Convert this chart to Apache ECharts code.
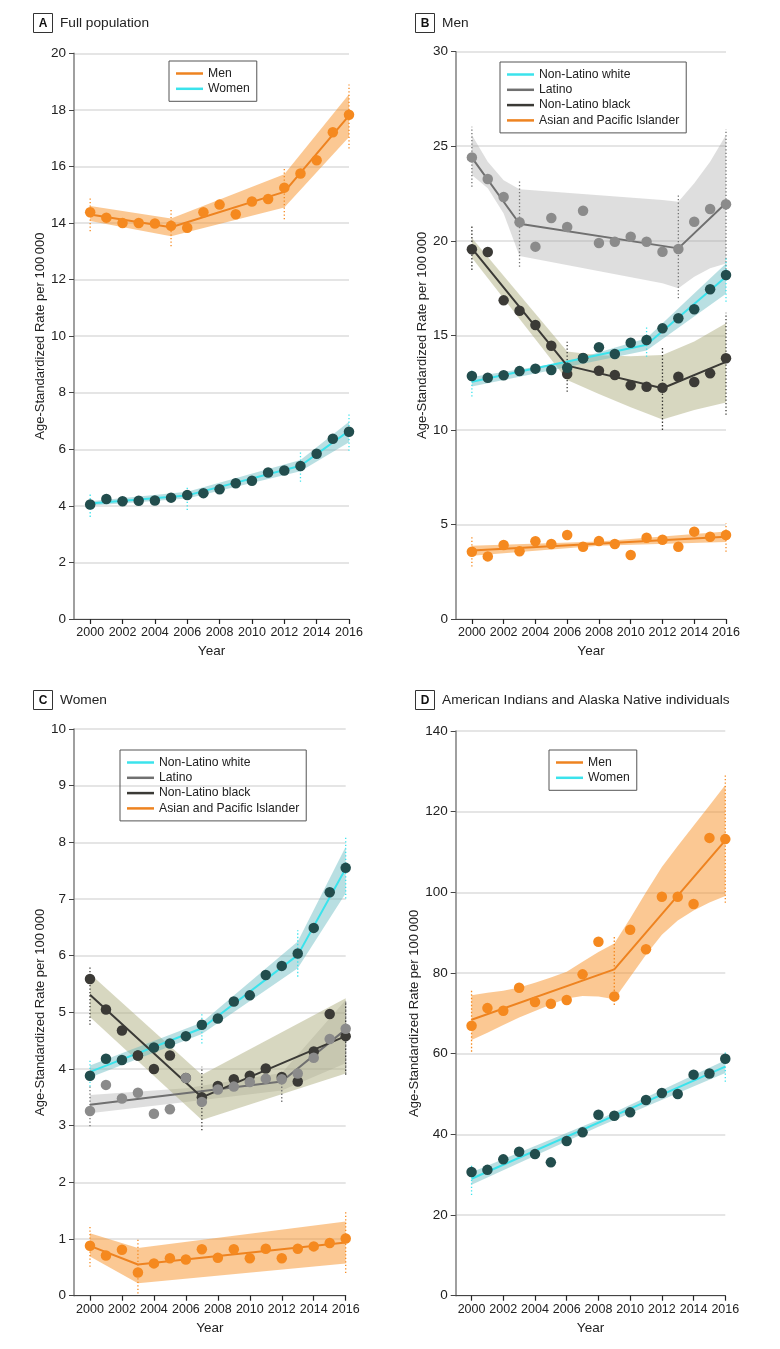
<!DOCTYPE html>
<html><head><meta charset="utf-8">
<script src="https://cdn.jsdelivr.net/npm/echarts@6/dist/echarts.min.js"></script>
<style>html,body{margin:0;padding:0;background:#fff}#c{width:780px;height:1349px}</style>
</head><body><div id="c"></div>
<script>
// ---------- data ----------
const years = [2000,2001,2002,2003,2004,2005,2006,2007,2008,2009,2010,2011,2012,2013,2014,2015,2016];
const xTicks = [2000,2002,2004,2006,2008,2010,2012,2014,2016];

// Panel A: full population
const aMenObs   = [14.38,14.19,14.0,14.0,13.98,13.9,13.83,14.38,14.65,14.31,14.76,14.85,15.25,15.75,16.22,17.21,17.83];
const aMenFitX  = [2000,2005,2012,2016];
const aMenFit   = [14.3,13.85,15.1,17.8];
const aMenBandX = [2000,2005,2012,2016];
const aMenBandLo= [14.07,13.53,14.55,17.04];
const aMenBandHi= [14.6,14.16,15.72,18.55];
const aMenCiX   = [2000,2005,2012,2016];
const aMenCiLo  = [13.71,13.18,14.13,16.63];
const aMenCiHi  = [14.87,14.48,15.95,18.9];

const aWomObs   = [4.05,4.24,4.16,4.18,4.19,4.29,4.38,4.45,4.59,4.8,4.89,5.18,5.25,5.41,5.84,6.37,6.62];
const aWomFitX  = [2000,2006,2013,2016];
const aWomFit   = [4.08,4.37,5.42,6.65];
const aWomBandX = [2000,2006,2013,2016];
const aWomBandLo= [4.0,4.26,5.22,6.25];
const aWomBandHi= [4.16,4.5,5.62,6.97];
const aWomCiX   = [2000,2006,2013,2016];
const aWomCiLo  = [3.61,3.85,4.85,5.95];
const aWomCiHi  = [4.46,4.68,5.94,7.23];

// Panel B: men
const bWhiteObs   = [12.85,12.76,12.89,13.11,13.24,13.17,13.29,13.79,14.37,14.01,14.61,14.75,15.37,15.9,16.38,17.44,18.19];
const bWhiteFitX  = [2000,2011,2016];
const bWhiteFit   = [12.55,14.5,18.1];
const bWhiteBandX = [2000,2006,2011,2016];
const bWhiteBandLo= [12.3,13.32,14.2,17.2];
const bWhiteBandHi= [12.8,13.6,14.85,18.8];
const bWhiteCiX   = [2000,2011,2016];
const bWhiteCiLo  = [11.76,13.87,16.78];
const bWhiteCiHi  = [13.17,15.46,19.07];

const bLatObs   = [24.41,23.27,22.32,20.98,19.69,21.21,20.73,21.59,19.88,19.95,20.22,19.95,19.42,19.57,21.01,21.68,21.93];
const bLatFitX  = [2000,2003,2013,2016];
const bLatFit   = [24.4,20.9,19.6,22.0];
const bLatBandX = [2000,2001,2002,2003,2012,2013,2014,2015,2016];
const bLatBandLo= [23.48,22.78,21.45,19.2,17.75,17.49,18.1,18.55,18.8];
const bLatBandHi= [25.6,24.18,23.2,22.72,22.16,22.07,23.04,24.18,25.6];
const bLatCiX   = [2000,2003,2013,2016];
const bLatCiLo  = [22.86,18.63,16.96,18.3];
const bLatCiHi  = [26.03,23.13,22.42,25.9];

const bBlackObs   = [19.55,19.41,16.85,16.3,15.55,14.45,12.96,13.8,13.13,12.9,12.36,12.28,12.23,12.81,12.53,12.99,13.79];
const bBlackFitX  = [2000,2006,2012,2016];
const bBlackFit   = [19.6,13.4,12.2,13.6];
const bBlackBandX = [2000,2006,2008,2010,2012,2014,2016];
const bBlackBandLo= [19.1,12.64,11.9,11.2,10.55,11.05,11.45];
const bBlackBandHi= [20.15,14.15,13.95,13.9,13.96,14.67,15.64];
const bBlackCiX   = [2000,2006,2012,2016];
const bBlackCiLo  = [18.46,12.02,10.0,10.8];
const bBlackCiHi  = [20.83,14.66,14.4,16.2];

const bAsianObs   = [3.56,3.31,3.91,3.58,4.11,3.97,4.44,3.82,4.12,3.97,3.38,4.3,4.19,3.82,4.62,4.35,4.44];
const bAsianFitX  = [2000,2016];
const bAsianFit   = [3.62,4.35];
const bAsianBandX = [2000,2008,2016];
const bAsianBandLo= [3.35,3.87,4.07];
const bAsianBandHi= [3.87,4.1,4.63];
const bAsianCiX   = [2000,2016];
const bAsianCiLo  = [2.77,3.56];
const bAsianCiHi  = [4.39,5.06];

// Panel C: women
const cWhiteObs   = [3.88,4.18,4.16,4.24,4.38,4.45,4.58,4.78,4.89,5.19,5.3,5.66,5.82,6.04,6.49,7.12,7.55];
const cWhiteFitX  = [2000,2007,2013,2016];
const cWhiteFit   = [3.95,4.72,6.01,7.54];
const cWhiteBandX = [2000,2007,2013,2016];
const cWhiteBandLo= [3.85,4.62,5.78,7.1];
const cWhiteBandHi= [4.06,4.82,6.25,7.92];
const cWhiteCiX   = [2000,2007,2013,2016];
const cWhiteCiLo  = [3.69,4.45,5.63,7.01];
const cWhiteCiHi  = [4.16,4.98,6.45,8.1];

const cLatObs   = [3.26,3.72,3.48,3.58,3.21,3.29,3.84,3.42,3.64,3.69,3.77,3.83,3.82,3.92,4.2,4.53,4.71];
const cLatFitX  = [2000,2012,2016];
const cLatFit   = [3.37,3.78,4.7];
const cLatBandX = [2000,2006,2012,2016];
const cLatBandLo= [3.22,3.42,3.62,4.1];
const cLatBandHi= [3.54,3.66,3.93,5.22];
const cLatCiX   = [2000,2012,2016];
const cLatCiLo  = [2.99,3.42,3.92];
const cLatCiHi  = [3.72,3.89,5.2];

const cBlackObs   = [5.59,5.05,4.68,4.24,4.0,4.24,3.84,3.5,3.7,3.82,3.88,4.01,3.86,3.78,4.31,4.97,4.58];
const cBlackFitX  = [2000,2007,2016];
const cBlackFit   = [5.31,3.5,4.58];
const cBlackBandX = [2000,2007,2016];
const cBlackBandLo= [4.92,3.1,3.92];
const cBlackBandHi= [5.68,3.9,5.25];
const cBlackCiX   = [2000,2007,2016];
const cBlackCiLo  = [4.78,2.92,3.9];
const cBlackCiHi  = [5.8,4.04,5.2];

const cAsianObs   = [0.88,0.71,0.81,0.41,0.57,0.66,0.64,0.82,0.67,0.82,0.66,0.83,0.66,0.83,0.87,0.93,1.01];
const cAsianFitX  = [2000,2003,2016];
const cAsianFit   = [0.88,0.55,0.94];
const cAsianBandX = [2000,2003,2016];
const cAsianBandLo= [0.69,0.22,0.57];
const cAsianBandHi= [1.1,0.84,1.31];
const cAsianCiX   = [2000,2003,2016];
const cAsianCiLo  = [0.51,0.04,0.4];
const cAsianCiHi  = [1.22,1.01,1.48];

// Panel D: American Indians and Alaska Native individuals
const dMenObs   = [66.93,71.3,70.66,76.35,72.8,72.4,73.3,79.67,87.76,74.2,90.73,85.87,98.9,98.9,97.1,113.5,113.2];
const dMenFitX  = [2000,2009,2016];
const dMenFit   = [68.4,80.9,112.9];
const dMenBandX = years;
const dMenBandLo= [63.4,65.2,67.1,69.0,70.6,72.2,73.7,74.3,74.2,73.5,79,84.5,89.5,93,95.5,97.5,99.1];
const dMenBandHi= [74.5,75.1,75.6,76.4,77.6,78.9,80.3,82.8,85.2,87.3,93.5,100,106.3,111.5,116.5,121.5,126.6];
const dMenCiX   = [2000,2009,2016];
const dMenCiLo  = [60.5,72.1,97.4];
const dMenCiHi  = [75.96,89.2,129.1];

const dWomObs   = [30.66,31.2,33.8,35.7,35.1,33.06,38.35,40.5,44.87,44.63,45.45,48.5,50.24,50.0,54.8,55.1,58.76];
const dWomFitX  = [2000,2016];
const dWomFit   = [29.0,56.8];
const dWomBandX = [2000,2008,2016];
const dWomBandLo= [27.5,41.9,55.2];
const dWomBandHi= [30.6,43.6,58.4];
const dWomCiX   = [2000,2016];
const dWomCiLo  = [24.97,53.05];
const dWomCiHi  = [32.8,60.5];

const panelTitles = ['Full population','Men','Women','American Indians and Alaska Native individuals'];
const panelLetters = ['A','B','C','D'];
const yMax = [20,30,10,140];
const yStep = [2,5,1,20];

// ---------- styles ----------
const FONT = '"Liberation Sans",Arial,sans-serif';
const ORANGE_DOT='#F5891F', ORANGE_LINE='#EE8320', ORANGE_BAND='rgba(247,145,40,0.5)';
const CYAN_LINE='#3BE3EC', TEAL_DOT='#224D4D', TEAL_BAND='rgba(100,185,190,0.45)';
const GRAY_DOT='#8B8B8B', GRAY_LINE='#707070', GRAY_BAND='rgba(160,160,160,0.35)';
const DARK_DOT='#3B3A36', DARK_LINE='#3B3A36', KHAKI_BAND='rgba(175,175,130,0.5)';

const grids = [
  {left:74, top:53.3, width:275, height:565.7},
  {left:456, top:51.7, width:270, height:567.3},
  {left:74, top:729, width:271.7, height:566.7},
  {left:455.7, top:731, width:269.6, height:564.7}
];

function band(gi, xs, lo, hi, color){
  return {type:'custom', xAxisIndex:gi, yAxisIndex:gi, silent:true, z:1,
    data: xs.map((x,i)=>[x, lo[i], hi[i]]), encode:{x:0, y:[1,2]},
    renderItem:(p, api)=>{
      if (p.dataIndex!==0) return null;
      const pts=[];
      for (let i=0;i<xs.length;i++) pts.push(api.coord([xs[i],hi[i]]));
      for (let i=xs.length-1;i>=0;i--) pts.push(api.coord([xs[i],lo[i]]));
      return {type:'polygon', shape:{points:pts}, style:{fill:color}};
    }};
}
function ci(gi, xs, lo, hi, color){
  return {type:'custom', xAxisIndex:gi, yAxisIndex:gi, silent:true, z:2,
    data: xs.map((x,i)=>[x, lo[i], hi[i]]), encode:{x:0, y:[1,2]},
    renderItem:(p, api)=>{
      const a=api.coord([api.value(0),api.value(1)]), b=api.coord([api.value(0),api.value(2)]);
      return {type:'line', shape:{x1:a[0],y1:a[1],x2:b[0],y2:b[1]},
        style:{stroke:color, lineWidth:1.3, lineDash:[1.3,2.2]}};
    }};
}
function fit(name, gi, xs, ys, color){
  return {type:'line', name, xAxisIndex:gi, yAxisIndex:gi, silent:true, z:3,
    data: xs.map((x,i)=>[x,ys[i]]), symbol:'none', lineStyle:{color, width:2}, itemStyle:{color}};
}
function dots(name, gi, vals, color){
  return {type:'scatter', name, xAxisIndex:gi, yAxisIndex:gi, silent:true, z:5,
    data: years.map((y,i)=>[y,vals[i]]), symbolSize:10.5, itemStyle:{color, opacity:1}};
}

const series = [
  // A
  band(0,aMenBandX,aMenBandLo,aMenBandHi,ORANGE_BAND),
  band(0,aWomBandX,aWomBandLo,aWomBandHi,TEAL_BAND),
  ci(0,aMenCiX,aMenCiLo,aMenCiHi,ORANGE_DOT),
  ci(0,aWomCiX,aWomCiLo,aWomCiHi,CYAN_LINE),
  fit('Men',0,aMenFitX,aMenFit,ORANGE_LINE),
  fit('Women',0,aWomFitX,aWomFit,CYAN_LINE),
  dots('Men (observed)',0,aMenObs,ORANGE_DOT),
  dots('Women (observed)',0,aWomObs,TEAL_DOT),
  // B
  band(1,bLatBandX,bLatBandLo,bLatBandHi,GRAY_BAND),
  band(1,bBlackBandX,bBlackBandLo,bBlackBandHi,KHAKI_BAND),
  band(1,bWhiteBandX,bWhiteBandLo,bWhiteBandHi,TEAL_BAND),
  band(1,bAsianBandX,bAsianBandLo,bAsianBandHi,ORANGE_BAND),
  ci(1,bLatCiX,bLatCiLo,bLatCiHi,GRAY_LINE),
  ci(1,bBlackCiX,bBlackCiLo,bBlackCiHi,DARK_LINE),
  ci(1,bWhiteCiX,bWhiteCiLo,bWhiteCiHi,CYAN_LINE),
  ci(1,bAsianCiX,bAsianCiLo,bAsianCiHi,ORANGE_DOT),
  fit('Non-Latino white',1,bWhiteFitX,bWhiteFit,CYAN_LINE),
  fit('Latino',1,bLatFitX,bLatFit,GRAY_LINE),
  fit('Non-Latino black',1,bBlackFitX,bBlackFit,DARK_LINE),
  fit('Asian and Pacific Islander',1,bAsianFitX,bAsianFit,ORANGE_LINE),
  dots('Latino (observed)',1,bLatObs,GRAY_DOT),
  dots('Non-Latino black (observed)',1,bBlackObs,DARK_DOT),
  dots('Non-Latino white (observed)',1,bWhiteObs,TEAL_DOT),
  dots('Asian and Pacific Islander (observed)',1,bAsianObs,ORANGE_DOT),
  // C
  band(2,cLatBandX,cLatBandLo,cLatBandHi,GRAY_BAND),
  band(2,cBlackBandX,cBlackBandLo,cBlackBandHi,KHAKI_BAND),
  band(2,cWhiteBandX,cWhiteBandLo,cWhiteBandHi,TEAL_BAND),
  band(2,cAsianBandX,cAsianBandLo,cAsianBandHi,ORANGE_BAND),
  ci(2,cLatCiX,cLatCiLo,cLatCiHi,GRAY_LINE),
  ci(2,cBlackCiX,cBlackCiLo,cBlackCiHi,DARK_LINE),
  ci(2,cWhiteCiX,cWhiteCiLo,cWhiteCiHi,CYAN_LINE),
  ci(2,cAsianCiX,cAsianCiLo,cAsianCiHi,ORANGE_DOT),
  fit('Non-Latino white',2,cWhiteFitX,cWhiteFit,CYAN_LINE),
  fit('Latino',2,cLatFitX,cLatFit,GRAY_LINE),
  fit('Non-Latino black',2,cBlackFitX,cBlackFit,DARK_LINE),
  fit('Asian and Pacific Islander',2,cAsianFitX,cAsianFit,ORANGE_LINE),
  dots('Non-Latino white (observed)',2,cWhiteObs,TEAL_DOT),
  dots('Non-Latino black (observed)',2,cBlackObs,DARK_DOT),
  dots('Latino (observed)',2,cLatObs,GRAY_DOT),
  dots('Asian and Pacific Islander (observed)',2,cAsianObs,ORANGE_DOT),
  // D
  band(3,dMenBandX,dMenBandLo,dMenBandHi,ORANGE_BAND),
  band(3,dWomBandX,dWomBandLo,dWomBandHi,TEAL_BAND),
  ci(3,dMenCiX,dMenCiLo,dMenCiHi,ORANGE_DOT),
  ci(3,dWomCiX,dWomCiLo,dWomCiHi,CYAN_LINE),
  fit('Men',3,dMenFitX,dMenFit,ORANGE_LINE),
  fit('Women',3,dWomFitX,dWomFit,CYAN_LINE),
  dots('Men (observed)',3,dMenObs,ORANGE_DOT),
  dots('Women (observed)',3,dWomObs,TEAL_DOT)
];

const xAxes = grids.map((g,i)=>({
  type:'value', gridIndex:i, min:1999, max:2016,
  name:'Year', nameLocation:'middle', nameGap:25.5,
  nameTextStyle:{fontFamily:FONT, fontSize:13.5, color:'#222'},
  axisLine:{show:true, onZero:false, lineStyle:{color:'#444', width:1.2}},
  axisTick:{show:true, length:5, customValues:xTicks, lineStyle:{color:'#222', width:1.2}},
  axisLabel:{customValues:xTicks, showMinLabel:true, showMaxLabel:true, hideOverlap:false,
    formatter:(v)=>String(Math.round(v)), margin:7.5, fontFamily:FONT, fontSize:12.5, color:'#222'},
  splitLine:{show:false}
}));
const yAxes = grids.map((g,i)=>({
  type:'value', gridIndex:i, min:0, max:yMax[i], interval:yStep[i],
  name:'Age-Standardized Rate per 100\u2009000', nameLocation:'middle', nameGap:[25.5,26.5,25.5,29][i],
  nameTextStyle:{fontFamily:FONT, fontSize:13, color:'#222'},
  axisLine:{show:true, lineStyle:{color:'#888', width:1.6}},
  axisTick:{show:true, length:5, lineStyle:{color:'#444'}},
  axisLabel:{margin:8, fontFamily:FONT, fontSize:13.5, color:'#222'},
  splitLine:{show:true, lineStyle:{color:'#dddddd', width:1.5}}
}));

function legend(left, top, items){
  return {orient:'vertical', left, top, padding:[6,7,6,7], itemGap:2.3,
    itemWidth:27, itemHeight:2.5, borderColor:'#555', borderWidth:1,
    selectedMode:false,
    textStyle:{fontFamily:FONT, fontSize:12.2, color:'#222', lineHeight:13},
    data: items.map(([n,c])=>({name:n, icon:'rect', itemStyle:{color:c, borderWidth:0}}))};
}
const legends = [
  legend(169,61,[['Men',ORANGE_LINE],['Women',CYAN_LINE]]),
  legend(500,62,[['Non-Latino white',CYAN_LINE],['Latino',GRAY_LINE],['Non-Latino black',DARK_LINE],['Asian and Pacific Islander',ORANGE_LINE]]),
  legend(120,750,[['Non-Latino white',CYAN_LINE],['Latino',GRAY_LINE],['Non-Latino black',DARK_LINE],['Asian and Pacific Islander',ORANGE_LINE]]),
  legend(549,750,[['Men',ORANGE_LINE],['Women',CYAN_LINE]])
];

const titlePos = [[33,13],[415,13],[33,690],[415,690]];
const graphic = [];
titlePos.forEach(([x,y],i)=>{
  graphic.push({type:'rect', shape:{x:x+0.5,y:y+0.5,width:19,height:19}, style:{fill:'#fff', stroke:'#333', lineWidth:1}});
  graphic.push({type:'text', x:x+10, y:y+10.5, style:{text:panelLetters[i], font:'bold 12px "Liberation Sans",sans-serif', align:'center', verticalAlign:'middle', fill:'#111'}});
  graphic.push({type:'text', x:x+27, y:y+10.5, style:{text:panelTitles[i], font:'13.7px '+FONT, align:'left', verticalAlign:'middle', fill:'#222'}});
});

const chart = echarts.init(document.getElementById('c'), null, {renderer:'canvas'});
chart.setOption({
  animation:false,
  backgroundColor:'#fff',
  grid: grids,
  xAxis: xAxes,
  yAxis: yAxes,
  legend: legends,
  graphic: graphic,
  series: series
});
</script>
</body></html>
